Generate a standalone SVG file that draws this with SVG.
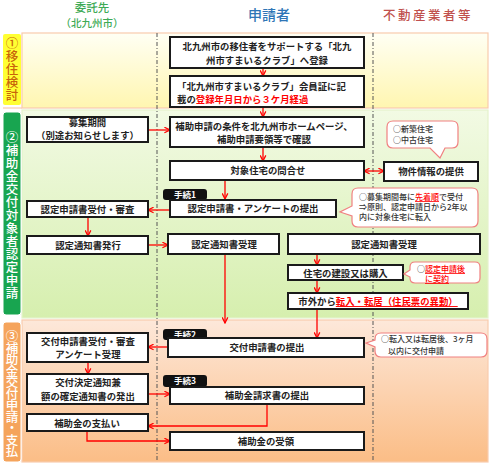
<svg xmlns="http://www.w3.org/2000/svg" width="490" height="467" viewBox="0 0 490 467">
<defs>
<linearGradient id="g1" x1="0" y1="0" x2="0" y2="1"><stop offset="0" stop-color="#fffff4"/><stop offset="1" stop-color="#fff6b0"/></linearGradient>
<linearGradient id="g2" x1="0" y1="0" x2="0" y2="1"><stop offset="0" stop-color="#f2fae4"/><stop offset="1" stop-color="#d6efae"/></linearGradient>
<linearGradient id="g3" x1="0" y1="0" x2="0" y2="1"><stop offset="0" stop-color="#fde8da"/><stop offset="1" stop-color="#fbbd86"/></linearGradient>
<marker id="ah" viewBox="0 0 10 10" refX="9" refY="5" markerWidth="7" markerHeight="7" markerUnits="userSpaceOnUse" orient="auto-start-reverse"><path d="M1,1 L9,5 L1,9" fill="none" stroke="#ff0000" stroke-width="1.8"/></marker>
</defs>
<style>
text{font-family:"Noto Sans CJK JP","Noto Sans CJK SC",sans-serif}
.box{fill:#fff;stroke:#1a1a1a;stroke-width:2}
.t{font-weight:bold;font-size:9.4px;fill:#222;text-anchor:middle}
.s{text-anchor:start}
.r{fill:#ff0000}
.u{text-decoration:underline}
.arr{stroke:#ff0000;stroke-width:1.3;fill:none;marker-end:url(#ah)}
.call{fill:#fff;stroke:#f08080;stroke-width:1.2}
.ct{font-size:8px;fill:#333;font-weight:500}
.tag{fill:#111}
.tagt{fill:#fff;font-size:8.5px;font-weight:bold;text-anchor:middle}
.lane{stroke:#555;stroke-width:1;stroke-dasharray:4 2 1 2;fill:none}
.vl{font-size:12.5px;font-weight:500;text-anchor:middle}
</style>
<g id="bands">
<rect x="22" y="33" width="466" height="75" fill="url(#g1)" stroke="#f8cbad" stroke-width="1.2"/>
<rect x="22" y="110" width="466" height="208" fill="url(#g2)" stroke="#e4f2cc" stroke-width="1.2"/>
<rect x="22" y="320" width="466" height="142" fill="url(#g3)" stroke="#f8cbad" stroke-width="1.2"/>
<line x1="3" y1="108" x2="22" y2="108" stroke="#f8cbad" stroke-width="1.2"/>
</g>
<g id="headers">
<text x="92" y="12" font-size="11.5" font-weight="500" fill="#3daa55" text-anchor="middle">委託先</text>
<text x="92" y="27" font-size="10.5" font-weight="500" fill="#3daa55" text-anchor="middle">（北九州市）</text>
<text x="269" y="20" font-size="14" font-weight="500" fill="#2e75b6" text-anchor="middle">申請者</text>
<text x="428" y="19.5" font-size="12.5" font-weight="500" fill="#c0504d" text-anchor="middle" letter-spacing="2.5">不動産業者等</text>
</g>
<g id="lanes">
<line class="lane" x1="157" y1="33" x2="157" y2="462"/>
<line class="lane" x1="373" y1="33" x2="373" y2="462"/>
</g>
<g id="label1">
<rect x="3" y="34" width="18" height="71" rx="2" fill="#ffff33"/>
<text class="vl" fill="#c8640a" x="12 12 12 12 12" y="47.5 60.5 73.5 86.5 99.5">①移住検討</text>
</g>
<g id="label2">
<rect x="3" y="112" width="18" height="203" rx="3" fill="#18a550" stroke="#fff" stroke-width="1"/>
<text class="vl" fill="#fff" x="12 12 12 12 12 12 12 12 12 12 12 12 12" y="141.5 154.5 167.5 180.5 193.5 206.5 219.5 232.5 245.5 258.5 271.5 284.5 297.5">②補助金交付対象者認定申請</text>
</g>
<g id="label3">
<rect x="3" y="322" width="18" height="140" rx="3" fill="#f5a45c" stroke="#fff" stroke-width="1"/>
<text class="vl" fill="#fff" font-size="11.5" x="12 12 12 12 12 12 12 12 12 12 12" y="341 352.5 364 375.5 387 398.5 410 421.5 433 444.5 456">③補助金交付申請・支払</text>
</g>
<g id="connectors">
<line class="arr" x1="263" y1="68" x2="263" y2="76"/>
<line class="arr" x1="263" y1="107" x2="263" y2="117"/>
<line class="arr" x1="263" y1="147" x2="263" y2="161"/>
<line class="arr" x1="148" y1="130" x2="170" y2="130"/>
<line class="arr" x1="374" y1="171" x2="364" y2="171"/>
<line class="arr" x1="374" y1="171" x2="384" y2="171"/>
<line class="arr" x1="225" y1="180" x2="225" y2="199"/>
<line class="arr" x1="170" y1="210" x2="148" y2="210"/>
<line class="arr" x1="88" y1="217" x2="88" y2="236"/>
<line class="arr" x1="148" y1="245" x2="168" y2="245"/>
<line class="arr" x1="225" y1="254" x2="225" y2="323"/>
<line class="arr" x1="317" y1="254" x2="317" y2="265"/>
<line class="arr" x1="317" y1="280" x2="317" y2="293"/>
<line class="arr" x1="317" y1="309" x2="317" y2="338"/>
<line class="arr" x1="168" y1="347" x2="148" y2="347"/>
<line class="arr" x1="88" y1="362" x2="88" y2="374"/>
<line class="arr" x1="148" y1="394" x2="170" y2="394"/>
<path class="arr" d="M267,404 V426 H148"/>
<path class="arr" d="M87,431 V441 H170"/>
</g>
<g id="n1"><rect class="box" x="170" y="37" width="194" height="31"/>
<text class="t" x="267" y="50">北九州市の移住者をサポートする「北九</text>
<text class="t" x="267" y="64">州市すまいるクラブ」へ登録</text></g>
<g id="n2"><rect class="box" x="170" y="76" width="194" height="31"/>
<text class="t s" x="177" y="89.5">「北九州市すまいるクラブ」会員証に記</text>
<text class="t s" x="177" y="103">載の<tspan class="r">登録年月日から３ケ月経過</tspan></text></g>
<g id="n3"><rect class="box" x="170" y="117" width="194" height="30"/>
<text class="t" x="264" y="130" font-size="9.2">補助申請の条件を北九州市ホームページ、</text>
<text class="t" x="264" y="143" font-size="9.2">補助申請要領等で確認</text></g>
<g id="n4"><rect class="box" x="170" y="161" width="194" height="19"/>
<text class="t" x="268" y="174">対象住宅の問合せ</text></g>
<g id="n4r"><rect class="box" x="384" y="162" width="94" height="19"/>
<text class="t" x="431" y="175">物件情報の提供</text></g>
<g id="callA"><path class="call" d="M393,121 H452 Q458,121 458,127 V142 Q458,148 452,148 H445 L440,158 L430,148 H393 Q387,148 387,142 V127 Q387,121 393,121 Z"/>
<text class="ct" x="393" y="132">○新築住宅</text>
<text class="ct" x="393" y="143">○中古住宅</text></g>
<g id="tag1"><rect class="tag" x="163" y="189" width="44" height="11" rx="3"/>
<text class="tagt" x="185" y="197.5">手続1</text></g>
<g id="n5"><rect class="box" x="170" y="200" width="166" height="17"/>
<text class="t" x="253" y="212">認定申請書・アンケートの提出</text></g>
<g id="callB"><path class="call" d="M358,188 H472 Q478,188 478,194 V221 Q478,227 472,227 H358 Q352,227 352,221 V216 L340,212 L352,206 V194 Q352,188 358,188 Z"/>
<text class="ct" x="359" y="200" font-size="8.4">○募集期間毎に<tspan class="r u">先着順</tspan>で受付</text>
<text class="ct" x="359" y="210" font-size="8.4">⇒原則、認定申請日から2年以</text>
<text class="ct" x="359" y="220" font-size="8.4">内に対象住宅に転入</text></g>
<g id="L1"><rect class="box" x="27" y="117" width="121" height="25"/>
<text class="t" x="87.5" y="125.5" font-size="7.3">募集期間</text>
<text class="t" x="87.5" y="139" font-size="7.3">（別途お知らせします）</text></g>
<g id="L2"><rect class="box" x="27" y="201" width="121" height="16"/>
<text class="t" x="87.5" y="212.5">認定申請書受付・審査</text></g>
<g id="L3"><rect class="box" x="27" y="236" width="121" height="18"/>
<text class="t" x="88" y="248.5">認定通知書発行</text></g>
<g id="n6"><rect class="box" x="168" y="234" width="111" height="20"/>
<text class="t" x="224" y="247.5">認定通知書受理</text></g>
<g id="n7"><rect class="box" x="288" y="234" width="192" height="20"/>
<text class="t" x="384" y="247.5">認定通知書受理</text></g>
<g id="n8"><rect class="box" x="288" y="265" width="115" height="15"/>
<text class="t" x="345.5" y="276.5">住宅の建設又は購入</text></g>
<g id="callC"><path class="call" d="M415,262 H475 Q480,262 480,267 V278 Q480,283 475,283 H415 Q410,283 410,278 V277 L404,274 L410,270 V267 Q410,262 415,262 Z"/>
<text class="ct" x="417" y="272">○<tspan class="r u">認定申請後</tspan></text>
<text class="ct" x="425" y="282"><tspan class="r u">に契約</tspan></text></g>
<g id="n9"><rect class="box" x="288" y="293" width="180" height="16"/>
<text class="t" x="378" y="305">市外から<tspan class="r u">転入・転居（住民票の異動）</tspan></text></g>
<g id="tag2"><rect class="tag" x="163" y="329" width="44" height="11" rx="3"/>
<text class="tagt" x="185" y="337.5">手続2</text></g>
<g id="n10"><rect class="box" x="168" y="338" width="196" height="19"/>
<text class="t" x="267" y="351">交付申請書の提出</text></g>
<g id="callD"><path class="call" d="M381,333 H481 Q487,333 487,339 V351 Q487,357 481,357 H381 Q375,357 375,351 V347 L366,343 L375,340 V339 Q375,333 381,333 Z"/>
<text class="ct" x="381" y="342">○転入又は転居後、3ヶ月</text>
<text class="ct" x="388" y="353.5">以内に交付申請</text></g>
<g id="L4"><rect class="box" x="27" y="333" width="121" height="29"/>
<text class="t" x="88" y="344.5">交付申請書受付・審査</text>
<text class="t" x="88" y="357.5">アンケート受理</text></g>
<g id="L5"><rect class="box" x="27" y="374" width="121" height="30"/>
<text class="t" x="88" y="386">交付決定通知兼</text>
<text class="t" x="88" y="400">額の確定通知書の発出</text></g>
<g id="tag3"><rect class="tag" x="163" y="375" width="44" height="12" rx="3"/>
<text class="tagt" x="185" y="384">手続3</text></g>
<g id="n11"><rect class="box" x="170" y="387" width="194" height="17"/>
<text class="t" x="267" y="399">補助金請求書の提出</text></g>
<g id="L6"><rect class="box" x="27" y="414" width="121" height="17"/>
<text class="t" x="87" y="426.5">補助金の支払い</text></g>
<g id="n12"><rect class="box" x="170" y="432" width="194" height="18"/>
<text class="t" x="266" y="444.5">補助金の受領</text></g>
</svg>
